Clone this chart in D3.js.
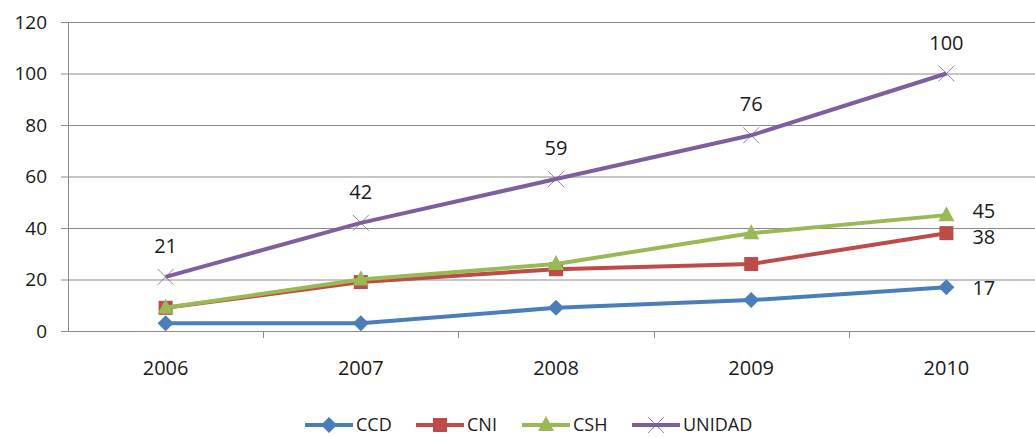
<!DOCTYPE html>
<html><head><meta charset="utf-8">
<script src="https://cdn.jsdelivr.net/npm/d3@7"></script>
<style>body{margin:0;background:#fff}svg{display:block}text{font-family:"Open Sans","Noto Sans",sans-serif;fill:#1a1a1a}</style>
</head><body><svg id="c" width="1035" height="437"></svg>
<script>
const years = ["2006","2007","2008","2009","2010"];
const ccd = [3, 3, 9, 12, 17];
const cni = [9, 19, 24, 26, 38];
const csh = [9, 20, 26, 38, 45];
const unidad = [21, 42, 59, 76, 100];
const yTicks = [0, 20, 40, 60, 80, 100, 120];
const seriesNames = ["CCD","CNI","CSH","UNIDAD"];
const colors = ["#4A7EBB","#BE4B48","#98B954","#7D5FA0"];
const series = [ccd, cni, csh, unidad];

const svg = d3.select("#c");
const x0 = 68, y0 = 331, y1 = 22, band = 195.2;
const x = d3.scaleBand().domain(years).range([x0, x0 + band*years.length]);
const y = d3.scaleLinear().domain([0,120]).range([y0, y1]);

// gridlines
svg.append("g").selectAll("line").data(yTicks).join("line")
  .attr("x1", x0-7).attr("x2", 1035).attr("y1", d=>y(d)+0.5).attr("y2", d=>y(d)+0.5)
  .attr("stroke","#8c8c8c").attr("stroke-width",1);
// y axis line
svg.append("line").attr("x1",x0+0.5).attr("x2",x0+0.5).attr("y1",y1).attr("y2",y0)
  .attr("stroke","#8c8c8c");
// y tick labels
svg.append("g").selectAll("text").data(yTicks).join("text")
  .attr("x", 47).attr("y", d=>y(d)).attr("dy","0.35em").attr("text-anchor","end")
  .style("font-size","19px").text(d=>d);
// x ticks
const bounds = years.map((d,i)=>x0 + band*i).concat([x0+band*years.length]);
svg.append("g").selectAll("line").data(bounds.slice(1)).join("line")
  .attr("x1",d=>Math.round(d)+0.5).attr("x2",d=>Math.round(d)+0.5).attr("y1",y0).attr("y2",y0+7)
  .attr("stroke","#8c8c8c");
svg.append("g").selectAll("text").data(years).join("text")
  .attr("x", d=>x(d)+x.bandwidth()/2).attr("y", 368).attr("dy","0.35em")
  .attr("text-anchor","middle").style("font-size","20px").text(d=>d);

const cx = d => x(d) + x.bandwidth()/2;
const line = d3.line().x((v,i)=>cx(years[i])).y(v=>y(v));

function marker(g, type, color, px, py) {
  if (type===0) g.append("path").attr("d",`M${px},${py-8}L${px+8},${py}L${px},${py+8}L${px-8},${py}Z`).attr("fill",color);
  else if (type===1) g.append("rect").attr("x",px-7).attr("y",py-7).attr("width",14).attr("height",14).attr("fill",color);
  else if (type===2) g.append("path").attr("d",`M${px},${py-9}L${px+8},${py+6}L${px-8},${py+6}Z`).attr("fill",color);
  else g.append("path").attr("d",`M${px-8},${py-8}L${px+8},${py+8}M${px-8},${py+8}L${px+8},${py-8}`).attr("stroke",color).attr("stroke-width",1).attr("fill","none").attr("opacity",0.8);
}

series.forEach((s,k)=>{
  const g = svg.append("g");
  g.append("path").datum(s).attr("d",line).attr("fill","none").attr("stroke",colors[k]).attr("stroke-width",4).attr("stroke-linejoin","round");
  s.forEach((v,i)=>marker(g,k,colors[k],cx(years[i]),y(v)));
});

// data labels
unidad.forEach((v,i)=>{
  svg.append("text").attr("x",cx(years[i])).attr("y",y(v)-31).attr("dy","0.35em")
    .attr("text-anchor","middle").style("font-size","20px").text(v);
});
const last = years.length-1;
[[ccd,1],[cni,4],[csh,-4]].forEach(([s,off])=>{
  svg.append("text").attr("x",cx(years[last])+26).attr("y",y(s[last])+off).attr("dy","0.35em")
    .style("font-size","20px").text(s[last]);
});

// legend
const lx = [305, 416, 522, 632];
seriesNames.forEach((n,k)=>{
  const g = svg.append("g");
  const ly = 425;
  g.append("line").attr("x1",lx[k]).attr("x2",lx[k]+48).attr("y1",ly).attr("y2",ly).attr("stroke",colors[k]).attr("stroke-width",4);
  marker(g,k,colors[k],lx[k]+24,ly);
  g.append("text").attr("x",lx[k]+51).attr("y",ly).attr("dy","0.35em").style("font-size","18px").text(n);
});
</script></body></html>
